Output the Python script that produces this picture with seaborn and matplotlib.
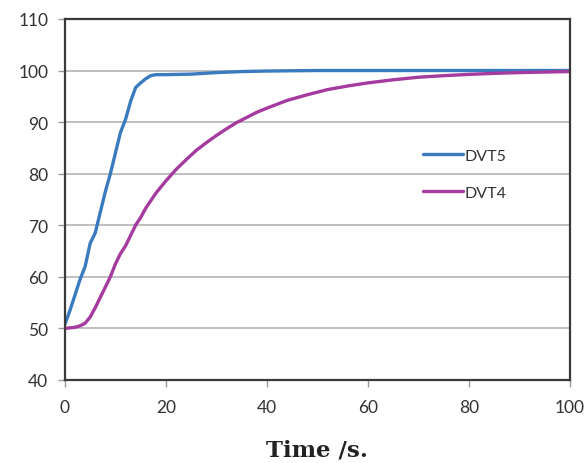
import numpy as np
import pandas as pd
import matplotlib
matplotlib.use("Agg")
import matplotlib.pyplot as plt
import seaborn as sns

# time axis and response values
t_dvt5 = [0, 1, 2, 3, 4, 5, 6, 7, 8, 9, 10, 11, 12, 13, 14, 15, 16, 17, 18,
          20, 25, 30, 35, 40, 50, 60, 70, 80, 90, 100]
v_dvt5 = [50.8, 53.5, 56.5, 59.5, 62.0, 66.5, 68.5, 72.5, 76.5, 80.0, 84.0,
          88.0, 90.5, 94.0, 96.7, 97.6, 98.4, 99.0, 99.2, 99.2, 99.3, 99.6,
          99.8, 99.9, 100.0, 100.0, 100.0, 100.0, 100.0, 100.0]

t_dvt4 = [0, 2, 3, 4, 5, 6, 7, 8, 9, 10, 11, 12, 13, 14, 15, 16, 18, 20, 22,
          24, 26, 28, 30, 32, 34, 36, 38, 40, 44, 48, 52, 56, 60, 65, 70, 75,
          80, 85, 90, 95, 100]
v_dvt4 = [50.0, 50.2, 50.5, 51.0, 52.2, 54.0, 56.0, 58.0, 60.0, 62.5, 64.5,
          66.0, 68.0, 70.0, 71.5, 73.3, 76.2, 78.6, 80.8, 82.7, 84.5, 86.0,
          87.4, 88.7, 89.9, 90.9, 91.9, 92.7, 94.2, 95.3, 96.3, 97.0, 97.6,
          98.2, 98.7, 99.0, 99.25, 99.45, 99.6, 99.7, 99.8]

series = ["DVT5", "DVT4"]
colors = {"DVT5": "#3a7bc0", "DVT4": "#a53a9f"}

df = pd.concat([
    pd.DataFrame({"t": t_dvt5, "v": v_dvt5, "s": "DVT5"}),
    pd.DataFrame({"t": t_dvt4, "v": v_dvt4, "s": "DVT4"}),
])

sns.set_style("white")
plt.rcParams["font.family"] = ["Lato", "DejaVu Sans"]

fig = plt.figure(figsize=(5.85, 4.64), dpi=100)
ax = fig.add_axes([0.111, 0.179, 0.863, 0.778])

for name in series:
    sub = df[df["s"] == name]
    sns.lineplot(x=sub["t"], y=sub["v"], ax=ax, color=colors[name],
                 linewidth=2.4, label=name)

ax.set_xlim(0, 100)
ax.set_ylim(40, 110)
ax.set_xticks(range(0, 101, 20))
ax.set_yticks(range(40, 111, 10))
ax.yaxis.grid(True, color="#b4b4b4", linewidth=1.2)
ax.xaxis.grid(False)
ax.set_axisbelow(True)

for sp in ax.spines.values():
    sp.set_visible(True)
    sp.set_color("#3a3a3a")
    sp.set_linewidth(1.6)

ax.tick_params(axis="both", which="both", direction="out", length=5,
               width=1, color="#9a9a9a", labelsize=12.5, labelcolor="#333333",
               left=True, bottom=True)
ax.tick_params(axis="x", pad=9)
ax.tick_params(axis="y", pad=7)

ax.set_ylabel("")
ax.set_xlabel("Time /s.", family=["DejaVu Serif"],
              fontsize=16.5, fontweight="bold", color="#222222", labelpad=17)

leg = ax.legend(loc="center left", bbox_to_anchor=(0.68, 0.57),
                frameon=False, fontsize=11.5, handlelength=2.5,
                handletextpad=0.1, labelspacing=1.45)
for txt in leg.get_texts():
    txt.set_color("#333333")

fig.savefig("out.png", dpi=100)
